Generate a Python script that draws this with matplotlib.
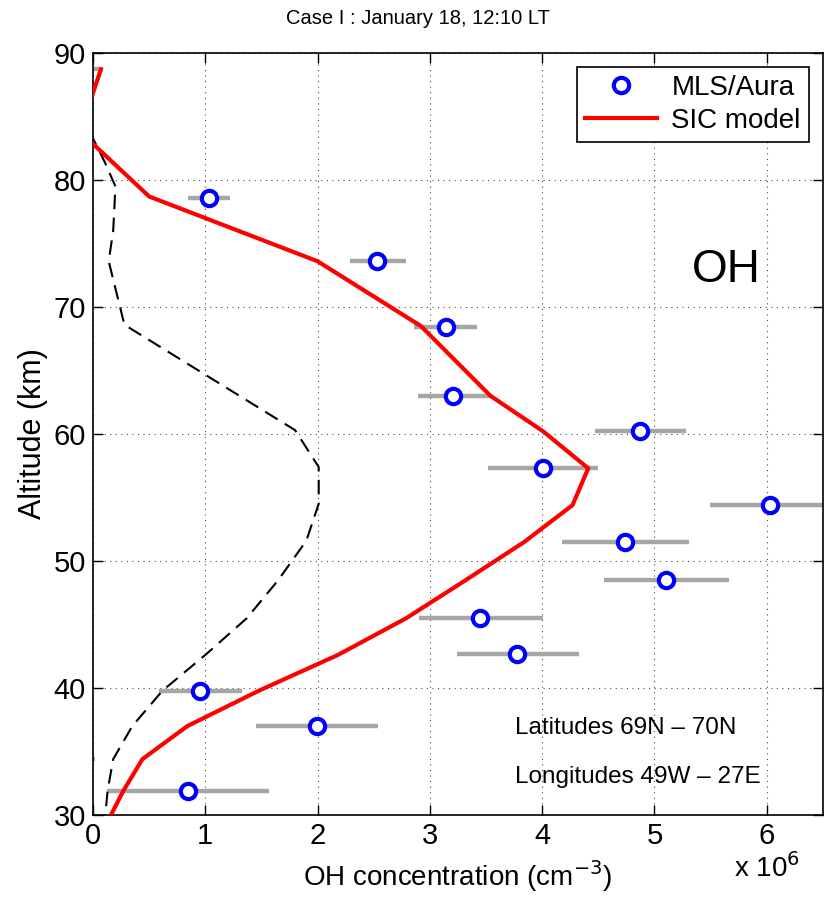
import matplotlib
matplotlib.use("Agg")
import matplotlib.pyplot as plt

plt.rcParams['font.family'] = ['Liberation Sans', 'DejaVu Sans']

# MLS/Aura OH (x 1e6 cm^-3) with error bar limits
mls_alt = [88.7, 83.8, 78.6, 73.6, 68.4, 63.0, 60.25, 57.3, 54.4, 51.5, 48.5, 45.5, 42.7, 39.8, 37.0, 34.4, 31.9]
mls_oh = [-0.3, -0.4, 1.03, 2.53, 3.14, 3.21, 4.87, 4.01, 6.03, 4.74, 5.10, 3.45, 3.78, 0.955, 1.995, -0.5, 0.85]
mls_lo = [-0.7, -0.8, 0.85, 2.29, 2.86, 2.89, 4.47, 3.52, 5.49, 4.18, 4.55, 2.90, 3.24, 0.585, 1.455, -1.0, 0.126]
mls_hi = [0.09, 0.01, 1.22, 2.79, 3.42, 3.54, 5.28, 4.50, 6.60, 5.31, 5.66, 4.01, 4.33, 1.33, 2.54, 0.02, 1.57]

# SIC model profile
sic_alt = [88.7, 83.8, 78.7, 73.6, 68.5, 63.0, 60.2, 57.3, 54.4, 51.5, 48.5, 45.5, 42.6, 39.8, 37.0, 34.4, 31.9, 30.0]
sic_oh = [0.07, -0.115, 0.5, 2.0, 2.92, 3.54, 4.01, 4.41, 4.27, 3.84, 3.32, 2.79, 2.18, 1.48, 0.84, 0.44, 0.27, 0.16]

# dashed profile
dash_alt = [83.8, 81.5, 79.5, 76.0, 73.6, 68.6, 60.3, 57.4, 54.5, 51.6, 48.5, 45.5, 42.6, 39.8, 37.0, 34.4, 31.9, 30.0]
dash_oh = [-0.03, 0.1, 0.2, 0.18, 0.14, 0.28, 1.8, 2.01, 2.01, 1.9, 1.65, 1.37, 1.0, 0.62, 0.35, 0.18, 0.13, 0.11]

fig = plt.figure(figsize=(8.25, 8.98), dpi=100)
ax = fig.add_axes([0.1127, 0.0924, 0.8848, 0.8486])

for a, lo, hi in zip(mls_alt, mls_lo, mls_hi):
    ax.plot([lo, hi], [a, a], color='#a6a6a6', lw=3.2, solid_capstyle='butt', zorder=2)

ax.plot(dash_oh, dash_alt, color='k', lw=1.5, dashes=(7, 4), zorder=3)
sic, = ax.plot(sic_oh, sic_alt, color='red', lw=3, zorder=4, label='SIC model')
mls, = ax.plot(mls_oh, mls_alt, ls='none', marker='o', ms=11, mew=3, mec='blue',
               mfc='white', zorder=5, label='MLS/Aura')

ax.set_xlim(0, 6.5)
ax.set_ylim(30, 90)
ax.set_xticks(range(0, 7))
ax.set_yticks(range(30, 91, 10))
ax.tick_params(direction='in', top=True, right=True, labelsize=21, length=7, width=1, pad=5)
ax.grid(True, ls=(0, (1, 4)), color='k', lw=0.8, alpha=0.7)
for s in ax.spines.values():
    s.set_linewidth(1.2)

ax.set_xlabel('OH concentration (cm$^{-3}$)', fontsize=20, labelpad=6)
ax.set_ylabel('Altitude (km)', fontsize=22, labelpad=4)
fig.text(418 / 825, 1 - 18 / 898, 'Case I : January 18, 12:10 LT', fontsize=14.5,
         ha='center', va='center')

ax.text(0.968, -0.05, 'x 10$^6$', transform=ax.transAxes, fontsize=20, ha='right', va='top')
ax.text(0.915, 0.715, 'OH', transform=ax.transAxes, fontsize=33, ha='right', va='center')
ax.text(0.578, 0.114, 'Latitudes 69N \u2013 70N', transform=ax.transAxes, fontsize=17.5, va='center')
ax.text(0.578, 0.05, 'Longitudes 49W \u2013 27E', transform=ax.transAxes, fontsize=17.5, va='center')

leg = ax.legend(handles=[mls, sic], loc='upper right', fontsize=20, frameon=True, fancybox=False,
                edgecolor='k', framealpha=1, handlelength=2.6, borderaxespad=0.5, labelspacing=0.25,
                borderpad=0.3, handletextpad=0.5)
leg.get_frame().set_linewidth(1.2)

fig.savefig('out.png', dpi=100)
